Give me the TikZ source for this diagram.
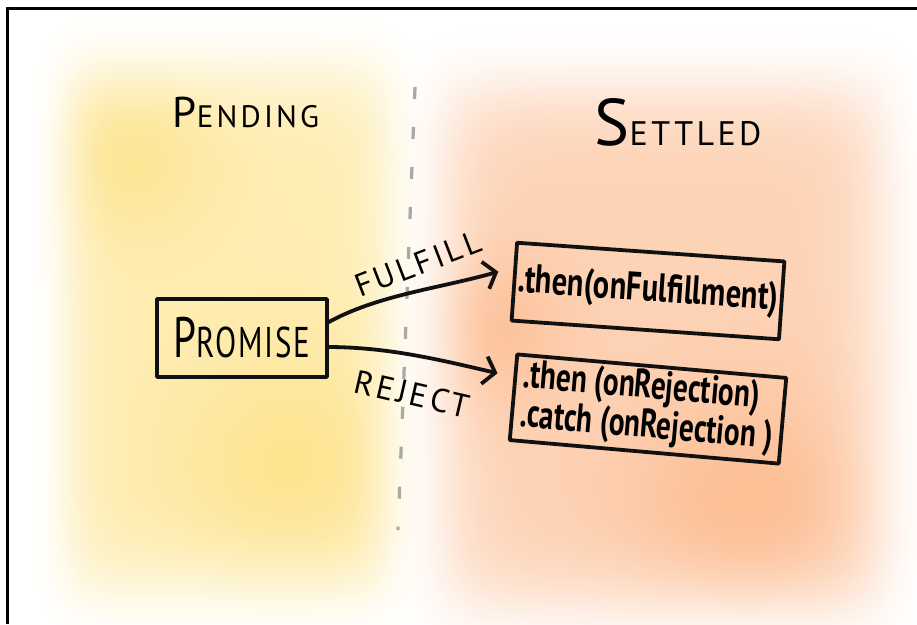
\documentclass[tikz,border=0pt]{standalone}
\usepackage{fontspec}
\usepackage{graphicx}
\setmainfont{PT Sans}
\usetikzlibrary{arrows.meta}

\definecolor{divgray}{HTML}{A8A8A8}
\definecolor{ink}{HTML}{111111}

% Watercolour wash for the whole sheet: a soft yellow patch on the left,
% a soft orange patch on the right (coordinates in bp, y upwards).
\pgfdeclarefunctionalshading{wash}{\pgfpointorigin}{\pgfpoint{917bp}{624bp}}{}{
  2 copy 294 sub 265 div dup mul dup mul dup mul exch 226 sub 165 div dup mul dup mul dup mul add neg 2.71828 exch exp
  2 index 2 index 479 sub dup mul exch 120 sub dup mul add 8000 div neg 2.71828 exch exp
  3 index 3 index 154 sub dup mul exch 290 sub dup mul add 14000 div neg 2.71828 exch exp
  add 0.32 mul 0.68 add mul
  2 index 2 index 277 sub 264 div dup mul dup mul dup mul exch 660 sub 222 div dup mul dup mul dup mul add neg 2.71828 exch exp
  3 index 3 index 109 sub dup mul exch 745 sub dup mul add 16000 div neg 2.71828 exch exp
  4 index 4 index 294 sub dup mul exch 475 sub dup mul add 6000 div neg 2.71828 exch exp
  add 0.32 mul 0.68 add mul
  4 2 roll pop pop
  2 copy 0.0118 mul exch 0.0078 mul add 1 exch sub
  3 1 roll
  2 copy 0.2549 mul exch 0.1059 mul add 1 exch sub
  3 1 roll
  0.4196 mul exch 0.4353 mul add 1 exch sub
}

\begin{document}
\begin{tikzpicture}[x=1pt,y=-1pt,
  inkline/.style={line width=3.8pt, line cap=round, line join=round, draw=ink},
  sketchbox/.style={inkline, inner sep=0pt, outer sep=0pt},
  flow/.style={inkline, -{Straight Barb[length=11pt,width=28pt]}},
  capsfont/.style={font=\addfontfeature{LetterSpace=10}},
]
\useasboundingbox (0,0) rectangle (917,624);
\fill[white] (0,0) rectangle (917,624);

% colour wash
\node[inner sep=0pt, outer sep=0pt, anchor=south west] (wash) at (0,624) {\pgfuseshading{wash}};

% frame
\draw[line width=3pt, black] (7,624) -- (7,8) -- (917,8);

% dashed divider
\coordinate (divtop) at (415,87);
\coordinate (divbot) at (398,530);
\draw[divgray, line width=3.2pt, dash pattern=on 12pt off 28pt] (divtop) -- (divbot);

% headings
\node[capsfont] (pending) at (246,112)
  {\fontsize{43}{43}\selectfont P\fontsize{31}{31}\selectfont ENDING};
\node[capsfont] (settled) at (678,122)
  {\fontsize{66}{66}\selectfont S\fontsize{34}{34}\selectfont ETTLED};

% promise box
\node[sketchbox, draw, minimum width=170pt, minimum height=78pt, font=\addfontfeature{LetterSpace=6}]
  (promise) at (242,338)
  {\scalebox{0.72}[1]{\fontsize{57}{57}\selectfont P\fontsize{43}{43}\selectfont ROMISE}};

% handler boxes
\node[sketchbox, draw, minimum width=268pt, minimum height=78pt, rotate=-4]
  (box1) at (648,291)
  {\scalebox{0.76}[1]{\fontsize{40}{40}\selectfont\bfseries .then(onFulfillment)}};
\node[sketchbox, draw, minimum width=270pt, minimum height=86pt, rotate=-5]
  (box2) at (648,409)
  {\scalebox{0.73}[1]{\fontsize{40}{36}\selectfont\bfseries
    \begin{tabular}{@{}l@{}}.then (onRejection)\\.catch (onRejection )\end{tabular}}};

% transitions
\draw[flow] ([yshift=15pt]promise.east)
  .. controls +(50,-28) and +(-60,17) .. ([xshift=-16pt,yshift=10pt]box1.west);
\draw[flow] ([yshift=-9pt]promise.east)
  .. controls +(60,0) and +(-60,-14) .. ([xshift=-16pt,yshift=24pt]box2.west);

\node[capsfont, rotate=21] (fulfill) at (418,264)
  {\fontsize{32}{32}\selectfont FULFILL};
\node[capsfont, rotate=-13] (reject) at (412,394)
  {\fontsize{33}{33}\selectfont REJECT};
\end{tikzpicture}
\end{document}
